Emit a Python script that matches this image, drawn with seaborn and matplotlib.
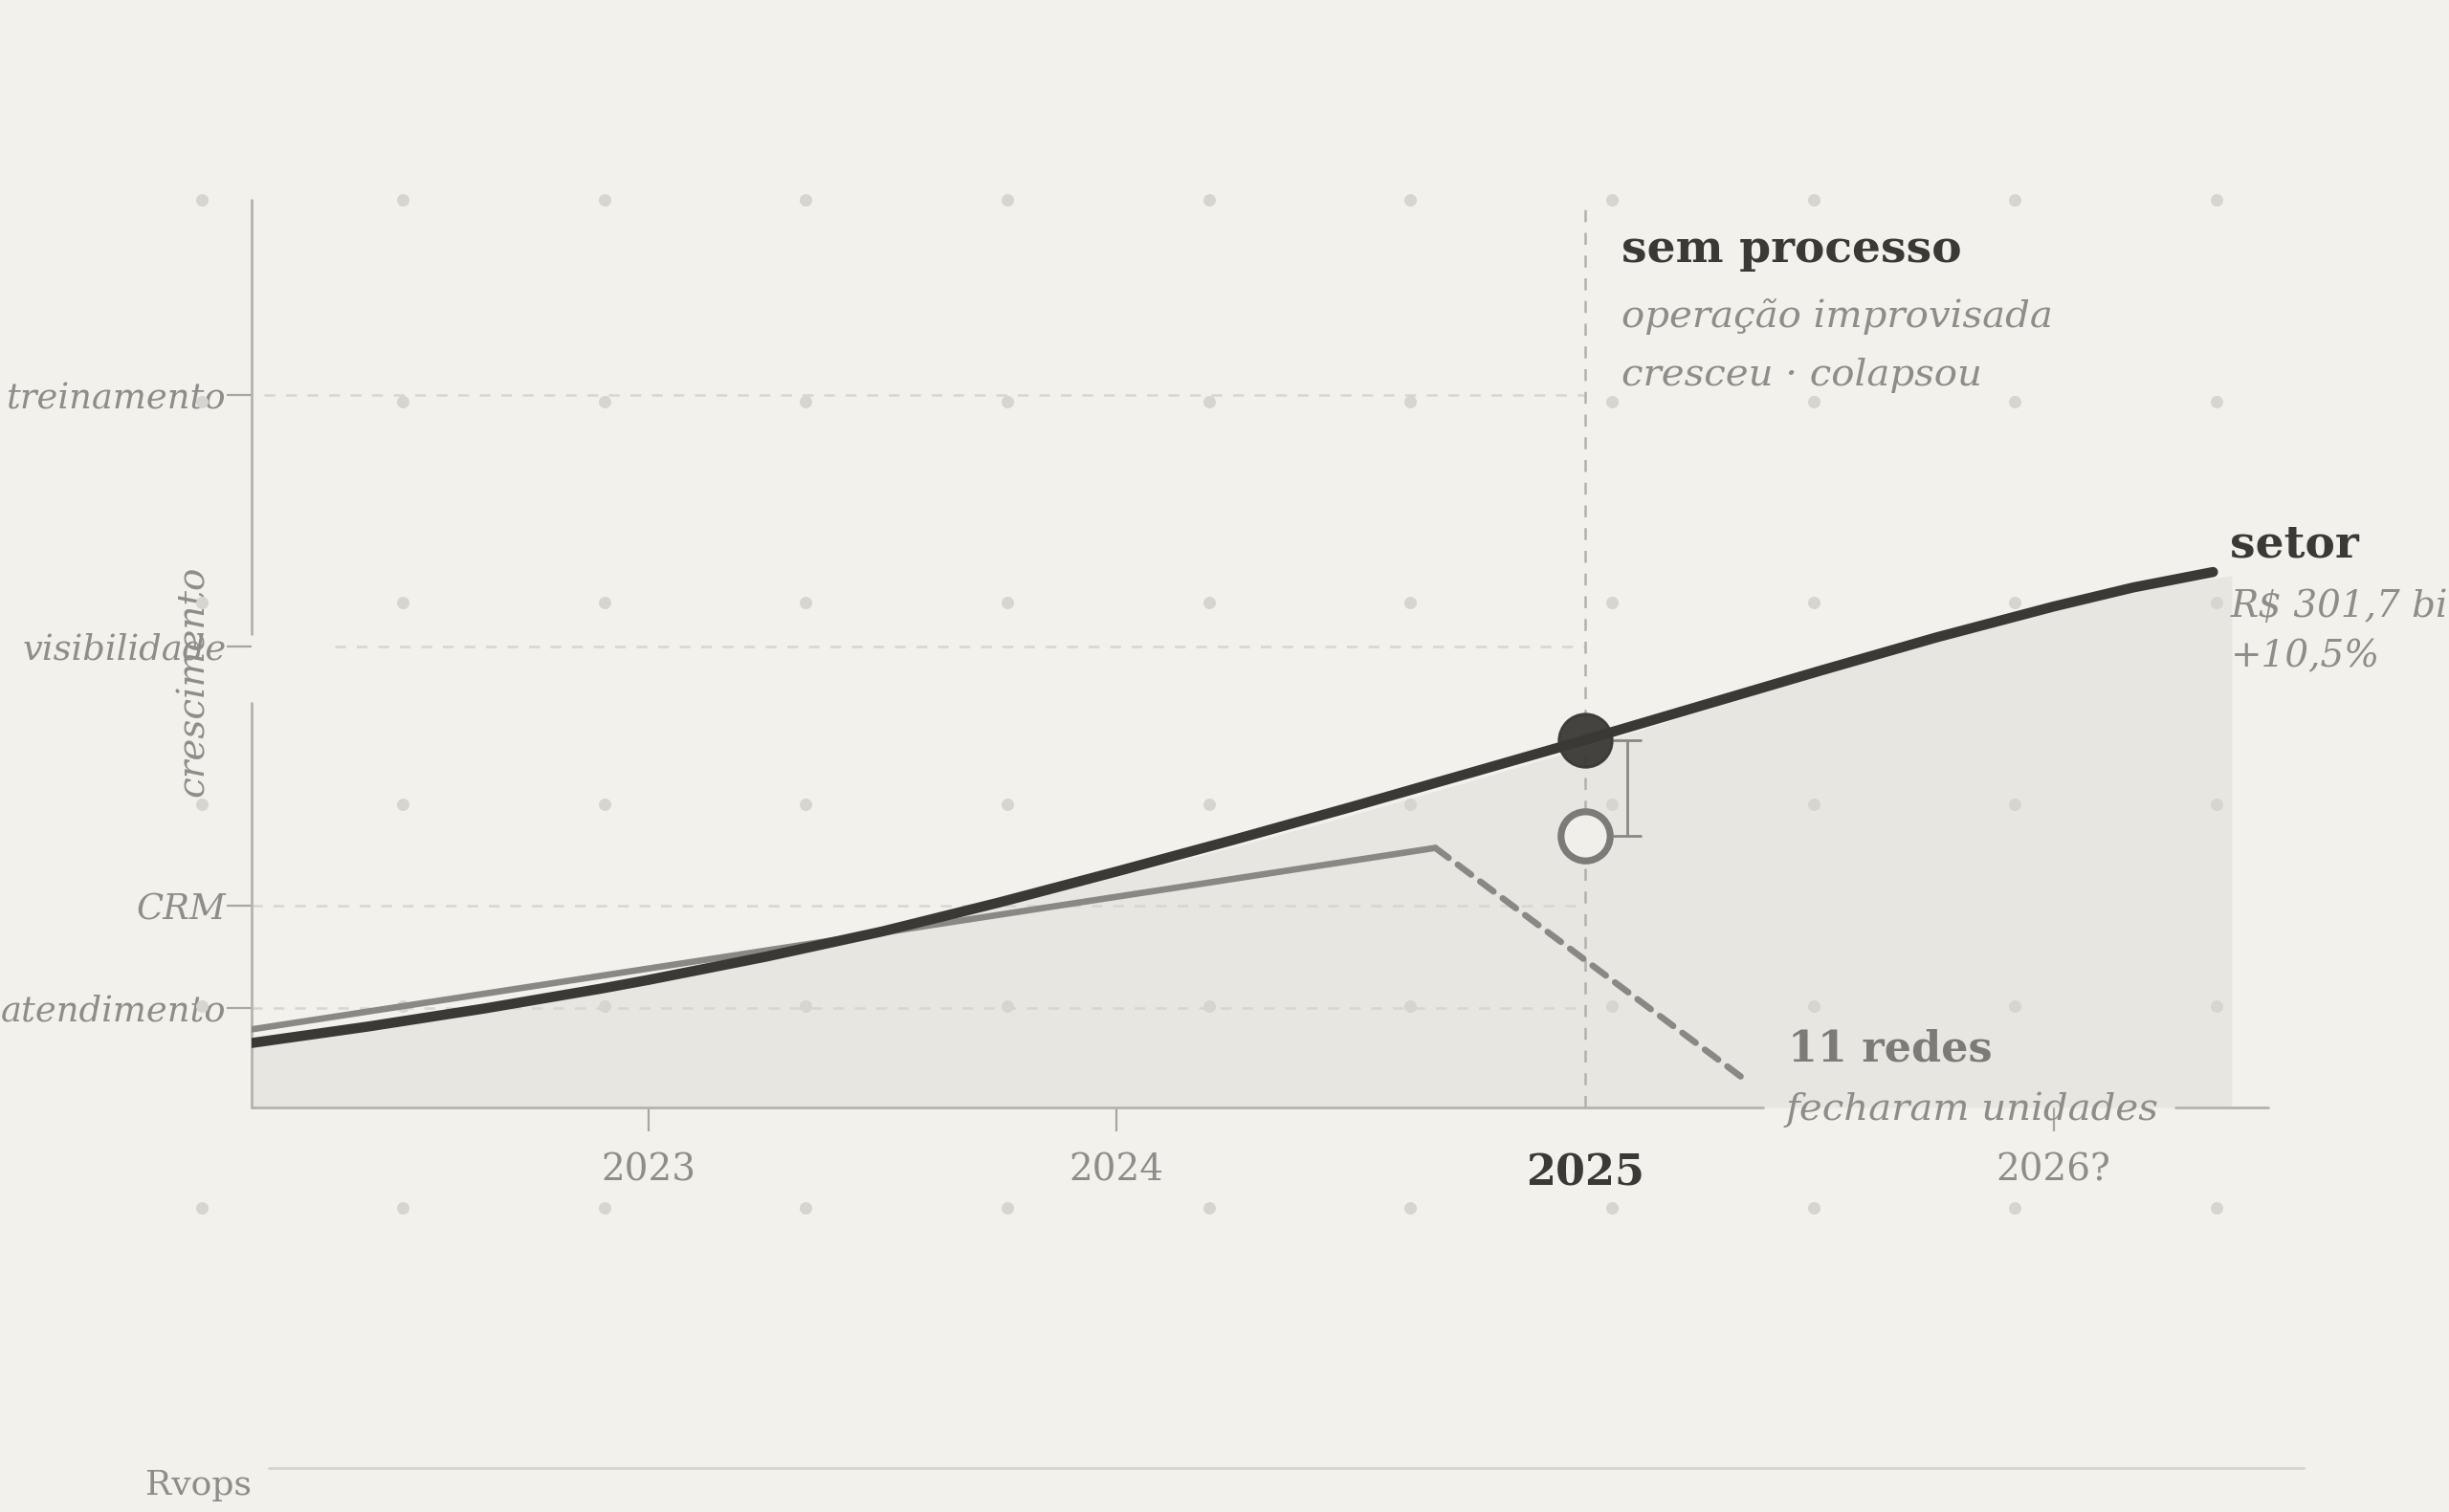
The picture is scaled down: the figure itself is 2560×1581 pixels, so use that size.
import numpy as np
import pandas as pd
import seaborn as sns
import matplotlib.pyplot as plt

# Cores
BG = '#f3f1ec'
FILL = '#e8e6e1'
DARK = '#3a3936'
GRAY = '#8a8884'
TXT = '#8f8d89'
TICK = '#a8a6a2'

# Curva do setor
setor_x = [2022.153, 2022.4, 2022.65, 2022.9, 2023.0, 2023.25, 2023.5, 2023.75, 2024.0,
           2024.25, 2024.5, 2024.75, 2025.0, 2025.25, 2025.5, 2025.75, 2026.0, 2026.17, 2026.34]
setor_y = [7.1, 8.9, 10.9, 13.1, 14.05, 16.6, 19.4, 22.6, 26.0,
           29.5, 33.1, 36.8, 40.5, 44.3, 48.1, 51.8, 55.2, 57.3, 59.0]

# Area sombreada (um pouco abaixo da curva do setor)
fill_x = [2022.153, 2022.4, 2022.65, 2022.9, 2023.0, 2023.25, 2023.5, 2023.75, 2024.0,
          2024.25, 2024.5, 2024.75, 2025.0, 2025.25, 2025.5, 2025.75, 2026.0, 2026.17, 2026.38]
fill_y = [7.1, 8.9, 10.9, 13.1, 14.05, 16.5, 19.2, 22.2, 25.4,
          28.7, 32.2, 35.9, 39.7, 43.7, 47.7, 51.5, 55.0, 57.1, 58.6]

# Rede sem processo: cresceu e colapsou
solido_x = [2022.153, 2024.68]
solido_y = [8.6, 28.6]
queda_x = [2024.68, 2025.34]
queda_y = [28.6, 3.1]

# Pontos em 2025
ano_foco = 2025
setor_2025 = 40.5
sem_proc_2025 = 29.9

yticks = [11.0, 22.2, 50.8, 78.5]
ylabels = ['atendimento', 'CRM', 'visibilidade', 'treinamento']
grid_start = [2022.153, 2022.153, 2022.33, 2022.18]
xticks = [2023, 2024, 2025, 2026]
xlabels = ['2023', '2024', '2025', '2026?']

sns.set_style('white', rc={'axes.facecolor': BG, 'figure.facecolor': BG})
plt.rcParams['font.family'] = ['DejaVu Serif']

fig = plt.figure(figsize=(12.8, 7.905), dpi=200)
ax = fig.add_axes([0.10268, 0.26756, 0.82334, 0.60021])
ax.set_xlim(2022.153, 2026.457)
ax.set_ylim(0, 100)

# grade de pontos no fundo
gx, gy = np.meshgrid(np.arange(129, 1420, 129) / 1568, 1 - np.arange(128, 774, 129) / 968)
ax.scatter(gx.ravel(), gy.ravel(), s=22, color='#d8d5d0', linewidths=0,
           transform=fig.transFigure, clip_on=False, zorder=1.5)

ax.fill_between(fill_x, 0, fill_y, color=FILL, linewidth=0, zorder=1)

# linhas de grade
for yv, x0 in zip(yticks, grid_start):
    ax.plot([x0, ano_foco], [yv, yv], color='#d9d6d1', lw=0.9,
            linestyle=(0, (4.5, 4.5)), zorder=1.2)

ax.axvline(ano_foco, color='#b3b1ac', lw=0.9, linestyle=(0, (5, 4.5)), zorder=1.3)

sns.lineplot(x=solido_x, y=solido_y, ax=ax, color=GRAY, linewidth=2.4,
             solid_capstyle='round', zorder=3)
sns.lineplot(x=queda_x, y=queda_y, ax=ax, color=GRAY, linewidth=2.4,
             linestyle=(0, (2.6, 1.8)), dash_capstyle='round', zorder=3)
sns.lineplot(x=setor_x, y=setor_y, ax=ax, color=DARK, linewidth=3.8,
             solid_capstyle='round', zorder=4)

ax.plot([ano_foco], [setor_2025], 'o', ms=20, color=DARK, mec=DARK, alpha=0.95, zorder=5)
ax.plot([ano_foco], [sem_proc_2025], 'o', ms=18.5, mfc='#f1efea', mec='#7d7b77', mew=2.6, zorder=5)

# colchete da diferenca
ax.vlines(2025.09, sem_proc_2025, setor_2025, color=GRAY, lw=1.0, zorder=4)
ax.hlines([sem_proc_2025, setor_2025], 2025.06, 2025.12, color=GRAY, lw=1.0, zorder=4)

# eixos
for s in ['top', 'right', 'left', 'bottom']:
    ax.spines[s].set_visible(False)
ax.plot([2022.153, 2022.153], [0, 44.6], color='#b5b3ae', lw=1.0, clip_on=False, zorder=2)
ax.plot([2022.153, 2022.153], [52.2, 100], color='#b5b3ae', lw=1.0, clip_on=False, zorder=2)
ax.plot([2022.153, 2025.38], [0, 0], color='#b5b3ae', lw=1.0, clip_on=False, zorder=2)
ax.plot([2026.26, 2026.457], [0, 0], color='#b5b3ae', lw=1.0, clip_on=False, zorder=2)

ax.set_yticks(yticks)
ax.set_yticklabels(ylabels, fontstyle='italic', fontsize=13.3, color=TXT)
ax.set_xticks(xticks)
ax.set_xticklabels(xlabels, fontsize=14, color=TXT)
ax.tick_params(axis='y', direction='out', length=9.5, width=0.8, color=TICK, pad=0, left=True)
ax.tick_params(axis='x', direction='out', length=9, width=0.8, color=TICK, pad=8, bottom=True)
lab25 = ax.get_xticklabels()[2]
lab25.set_fontweight('bold')
lab25.set_color(DARK)
lab25.set_fontsize(16)
ax.xaxis.get_major_ticks()[2].tick1line.set_visible(False)

ax.set_ylabel('crescimento', fontstyle='italic', fontsize=14, color=TXT, labelpad=0)
ax.yaxis.set_label_coords(-0.020, 0.47)
ax.set_xlabel('')

# anotacoes
ax.text(2025.077, 94.5, 'sem processo', fontsize=17, fontweight='bold', color=DARK,
        va='center', ha='left')
ax.text(2025.077, 87.1, 'operação improvisada', fontsize=14.5, fontstyle='italic', color=TXT,
        va='center', ha='left')
ax.text(2025.077, 80.7, 'cresceu · colapsou', fontsize=14.5, fontstyle='italic', color=TXT,
        va='center', ha='left')
ax.text(2026.377, 62.0, 'setor', fontsize=17, fontweight='bold', color=DARK,
        va='center', ha='left', clip_on=False)
ax.text(2026.377, 55.2, 'R$ 301,7 bi', fontsize=14, fontstyle='italic', color=TXT,
        va='center', ha='left', clip_on=False)
ax.text(2026.377, 49.7, '+10,5%', fontsize=14, fontstyle='italic', color=TXT,
        va='center', ha='left', clip_on=False)
ax.text(2025.433, 6.4, '11 redes', fontsize=16, fontweight='bold', color='#7d7b77',
        va='center', ha='left', zorder=6)
ax.text(2025.427, -0.2, 'fecharam unidades', fontsize=14.5, fontstyle='italic', color=TXT,
        va='center', ha='left', clip_on=False, zorder=6)

# rodape
fig.add_artist(plt.Line2D([0.1097, 0.9407], [0.0289, 0.0289], color='#d6d3ce', lw=1.0))
fig.text(0.0593, 0.0176, 'Rvops', fontsize=13, color=TXT, va='center', ha='left')

fig.savefig('out.png', dpi=200, facecolor=BG)
